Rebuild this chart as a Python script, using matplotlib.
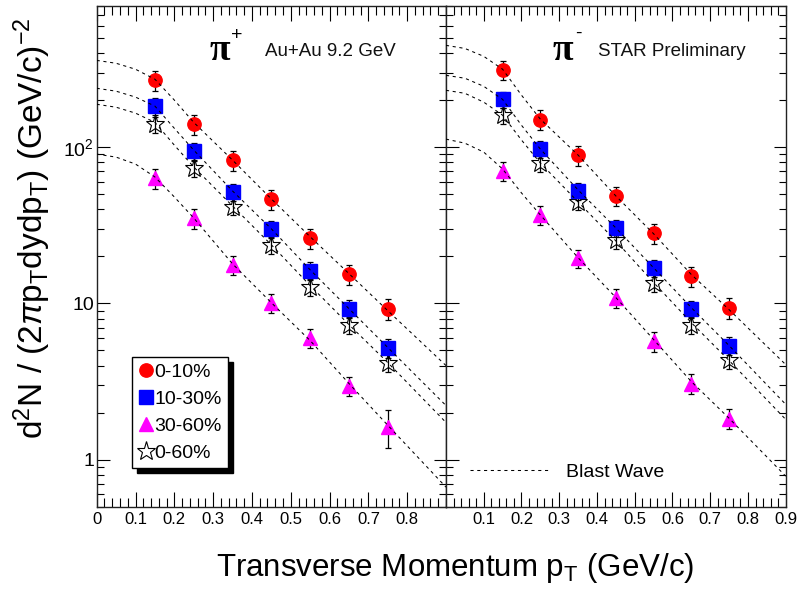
import matplotlib
matplotlib.use("Agg")
import matplotlib.pyplot as plt
from matplotlib.ticker import FixedLocator, FixedFormatter, LogLocator, NullFormatter, MultipleLocator
from matplotlib.lines import Line2D

plt.rcParams['font.family'] = ['Liberation Sans', 'DejaVu Sans']
plt.rcParams['mathtext.fontset'] = 'custom'
plt.rcParams['mathtext.rm'] = 'Liberation Sans'
plt.rcParams['mathtext.it'] = 'Liberation Sans:italic'
plt.rcParams['mathtext.bf'] = 'Liberation Sans:bold'

# ---- measured spectra: pT bin centres (GeV/c) ----
pt = [0.15, 0.25, 0.35, 0.45, 0.55, 0.65, 0.75]

centralities = ["0-10%", "10-30%", "30-60%", "0-60%"]

# pi+ yields
pip_0_10 = [268, 140, 82.6, 46.4, 26.2, 15.4, 9.2]
pip_10_30 = [183, 94.7, 51.8, 30.0, 16.2, 9.25, 5.19]
pip_30_60 = [63.1, 35.1, 17.7, 10.1, 6.0, 2.98, 1.63]
pip_0_60 = [140, 73.1, 41.6, 23.7, 12.8, 7.31, 4.17]

pip_0_10_err = [40, 21, 12, 7, 3.9, 2.3, 1.4]
pip_10_30_err = [22, 12, 6.5, 3.8, 2.1, 1.2, 0.7]
pip_30_60_err = [9, 5, 2.5, 1.4, 0.85, 0.42, 0.45]
pip_0_60_err = [17, 9, 5, 3, 1.6, 0.9, 0.55]

# pi- yields
pim_0_10 = [313, 150, 88.9, 48.7, 28.1, 14.9, 9.35]
pim_10_30 = [202, 96.7, 52.6, 30.3, 16.8, 9.21, 5.37]
pim_30_60 = [70.6, 36.8, 19.5, 10.8, 5.72, 3.07, 1.83]
pim_0_60 = [160, 78.7, 44.8, 25.5, 13.5, 7.31, 4.37]

pim_0_10_err = [45, 22, 13, 7, 4.2, 2.2, 1.4]
pim_10_30_err = [24, 12, 6.6, 3.8, 2.1, 1.2, 0.7]
pim_30_60_err = [10, 5, 2.6, 1.5, 0.8, 0.45, 0.27]
pim_0_60_err = [19, 9.5, 5.4, 3.1, 1.6, 0.9, 0.55]

# ---- Blast Wave fit curves ----
bw_pt = [0.0, 0.05, 0.1, 0.15, 0.2, 0.25, 0.35, 0.45, 0.55, 0.65, 0.75, 0.9]

bw_pip_0_10 = [359, 344, 315, 272, 200, 144, 82.6, 46.6, 26.7, 15.5, 8.98, 4.00]
bw_pip_10_30 = [238, 228, 209, 183, 132, 95.7, 52.4, 30.0, 16.4, 9.25, 5.22, 2.22]
bw_pip_30_60 = [90.2, 86.3, 77.9, 64.4, 48.0, 35.2, 17.9, 10.1, 5.78, 3.07, 1.66, 0.667]
bw_pip_0_60 = [188, 180, 165, 144, 103, 74.6, 42.0, 23.7, 13.0, 7.31, 4.18, 1.73]

bw_pim_0_10 = [448, 428, 381, 315, 215, 151, 88.9, 48.7, 27.9, 15.3, 9.12, 4.06]
bw_pim_10_30 = [288, 276, 245, 202, 138, 97.1, 53.2, 30.4, 16.9, 9.39, 5.37, 2.26]
bw_pim_30_60 = [112.5, 106, 92.9, 72.4, 50.9, 36.8, 19.6, 10.9, 5.87, 3.16, 1.84, 0.784]
bw_pim_0_60 = [231, 221, 194, 160, 111, 79.1, 44.6, 25.1, 13.6, 7.53, 4.31, 1.81]

x_ticks_left = [0.0, 0.1, 0.2, 0.3, 0.4, 0.5, 0.6, 0.7, 0.8]
x_labels_left = ["0", "0.1", "0.2", "0.3", "0.4", "0.5", "0.6", "0.7", "0.8"]
x_ticks_right = [0.1, 0.2, 0.3, 0.4, 0.5, 0.6, 0.7, 0.8, 0.9]
x_labels_right = ["0.1", "0.2", "0.3", "0.4", "0.5", "0.6", "0.7", "0.8", "0.9"]
y_ticks = [1, 10, 100]
y_labels = ["1", "10", "10$^{2}$"]

# marker style per centrality
styles = {
    "0-10%": dict(marker='o', ms=9.6, mfc='#ff0000', mec='#ff0000'),
    "10-30%": dict(marker='s', ms=9.4, mfc='#0000ff', mec='#0000ff'),
    "30-60%": dict(marker='^', ms=10.5, mfc='#ff00ff', mec='#ff00ff'),
    "0-60%": dict(marker='*', ms=14, mfc='none', mec='black', mew=0.8),
}

W, H = 801, 591
fig = plt.figure(figsize=(W / 100, H / 100), dpi=100)
fig.patch.set_facecolor('white')

x0L, x1L, x1R = 96.7, 446.0, 785.7
ytop, ybot = 6.0, 506.7
axL = fig.add_axes([x0L / W, 1 - ybot / H, (x1L - x0L) / W, (ybot - ytop) / H])
axR = fig.add_axes([x1L / W, 1 - ybot / H, (x1R - x1L) / W, (ybot - ytop) / H], sharey=axL)


def draw_panel(ax, vals, errs, curves):
    for key in ["0-60%", "30-60%", "10-30%", "0-10%"]:
        ax.errorbar(pt, vals[key], yerr=errs[key], fmt='none', ecolor='black',
                    elinewidth=0.9, capsize=2.4, capthick=0.9, zorder=2)
        ax.plot(pt, vals[key], linestyle='none', zorder=3, **styles[key])
        ax.plot(bw_pt, curves[key], color='black', lw=0.75,
                linestyle=(0, (3, 3.5)), zorder=4)


draw_panel(axL,
           {"0-10%": pip_0_10, "10-30%": pip_10_30, "30-60%": pip_30_60, "0-60%": pip_0_60},
           {"0-10%": pip_0_10_err, "10-30%": pip_10_30_err, "30-60%": pip_30_60_err, "0-60%": pip_0_60_err},
           {"0-10%": bw_pip_0_10, "10-30%": bw_pip_10_30, "30-60%": bw_pip_30_60, "0-60%": bw_pip_0_60})
draw_panel(axR,
           {"0-10%": pim_0_10, "10-30%": pim_10_30, "30-60%": pim_30_60, "0-60%": pim_0_60},
           {"0-10%": pim_0_10_err, "10-30%": pim_10_30_err, "30-60%": pim_30_60_err, "0-60%": pim_0_60_err},
           {"0-10%": bw_pim_0_10, "10-30%": bw_pim_10_30, "30-60%": bw_pim_30_60, "0-60%": bw_pim_0_60})

axL.set_yscale('log')
axL.set_ylim(0.5, 800)

for ax, ticks, labels in [(axL, x_ticks_left, x_labels_left), (axR, x_ticks_right, x_labels_right)]:
    ax.set_xlim(0, 0.9)
    ax.xaxis.set_major_locator(FixedLocator(ticks))
    ax.xaxis.set_major_formatter(FixedFormatter(labels))
    ax.xaxis.set_minor_locator(MultipleLocator(0.02))
    ax.yaxis.set_minor_locator(LogLocator(base=10, subs=range(2, 10)))
    ax.yaxis.set_minor_formatter(NullFormatter())
    ax.tick_params(which='both', direction='in', top=True, right=True,
                   bottom=True, left=True, width=0.8, color='black')
    ax.tick_params(axis='x', which='major', length=10.5, labelsize=12, pad=4)
    ax.tick_params(axis='x', which='minor', length=6.5)
    ax.tick_params(axis='y', which='major', length=9, labelsize=14, pad=2)
    ax.tick_params(axis='y', which='minor', length=4.8)
    for sp in ax.spines.values():
        sp.set_linewidth(1.0)
        sp.set_color('#222222')

axL.yaxis.set_major_locator(FixedLocator(y_ticks))
axL.yaxis.set_major_formatter(FixedFormatter(y_labels))
axR.tick_params(axis='y', which='both', labelleft=False)

# panel titles: particle symbol with charge, then the text tag
pi_font = dict(family=['Liberation Serif', 'DejaVu Serif'], weight='bold', size=27)
axL.text(0.322, 0.892, "π", transform=axL.transAxes, ha='left', va='baseline', **pi_font)
axL.text(0.402, 0.942, "+", transform=axL.transAxes, ha='center', va='center', fontsize=14)
axL.text(0.482, 0.909, "Au+Au 9.2 GeV", transform=axL.transAxes,
         fontsize=13.5, ha='left', va='center', color='#111111')
axR.text(0.313, 0.892, "π", transform=axR.transAxes, ha='left', va='baseline', **pi_font)
axR.text(0.389, 0.946, "-", transform=axR.transAxes, ha='center', va='center', fontsize=14)
axR.text(0.447, 0.909, "STAR Preliminary", transform=axR.transAxes,
         fontsize=13.5, ha='left', va='center', color='#111111')

# centrality legend
handles = [Line2D([], [], linestyle='none', **styles[k]) for k in centralities]
leg = axL.legend(handles, centralities, loc='upper left', bbox_to_anchor=(0.102, 0.2984),
                 borderaxespad=0, fontsize=14, frameon=True, fancybox=False,
                 edgecolor='black', framealpha=1, handlelength=0.75, handletextpad=0.05,
                 borderpad=0.32, labelspacing=0.48, markerscale=1.0,
                 shadow={'ox': 3.5, 'oy': -3.5, 'facecolor': 'black', 'edgecolor': 'black', 'alpha': 1})
leg.get_frame().set_linewidth(1.0)
leg.set_zorder(6)

# Blast Wave key
bw_handle = Line2D([], [], color='black', lw=0.75, linestyle=(0, (3, 3.5)))
axR.legend([bw_handle], ["Blast Wave"], loc='center left', bbox_to_anchor=(0.0707, 0.069),
           borderaxespad=0, borderpad=0, frameon=False, fontsize=14,
           handlelength=4.0, handletextpad=0.93)

# axis titles
fig.text(0.040, 1 - 228 / H, r"d$^{2}$N / (2$\pi$p$_{\rm T}$dydp$_{\rm T}$) (GeV/c)$^{-2}$",
         rotation=90, fontsize=24, ha='center', va='center')
fig.text(455 / W, 1 - 576 / H, r"Transverse Momentum p$_{\rm T}$ (GeV/c)",
         fontsize=22.5, ha='center', va='baseline')

fig.savefig("out.png", dpi=100, facecolor='white')
